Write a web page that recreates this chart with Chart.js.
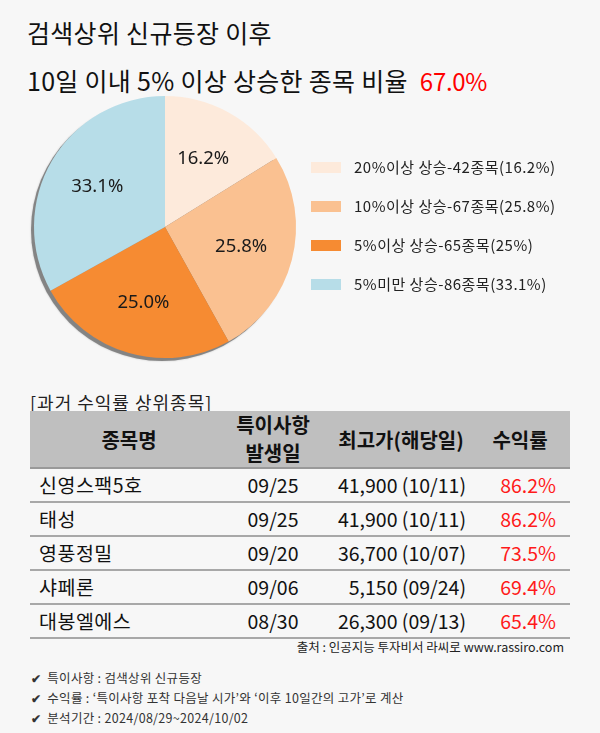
<!DOCTYPE html>
<html>
<head>
<meta charset="utf-8">
<script src="https://cdn.jsdelivr.net/npm/chart.js@4/dist/chart.umd.min.js"></script>
<style>
  html, body { margin:0; padding:0; }
  body { width:600px; height:733px; background:#f7f7f7; position:relative; overflow:hidden;
         font-family:"Noto Sans CJK KR","Noto Sans",sans-serif; color:#111; }
  .abs { position:absolute; white-space:nowrap; }
  #t1 { left:27px; top:20px; font-size:25px; line-height:25px; letter-spacing:0.3px; }
  #t2 { left:27px; top:68px; font-size:25px; line-height:25px; letter-spacing:0.3px; }
  #t2 .red { color:#ff0000; margin-left:12px; font-size:24px; letter-spacing:-0.3px; }
  #chartBox { position:absolute; left:0; top:77px; width:330px; height:300px; }
  .leg { position:absolute; left:311px; height:16px; font-size:15px; line-height:16px; color:#222; letter-spacing:0.5px; }
  .leg i { position:absolute; left:0; top:2px; width:30px; height:11px; }
  .leg span { position:absolute; left:43px; top:-1px; white-space:nowrap; }
  #tcap { left:30px; top:393px; font-size:18px; line-height:18px; color:#222; letter-spacing:1px; }
  #thead { position:absolute; left:30px; top:411px; width:540px; height:56px; background:#bfbfbf;
           border-bottom:2px solid #999; font-weight:bold; font-size:20px; color:#111; }
  #thead div { position:absolute; text-align:center; white-space:nowrap; }
  .row { position:absolute; left:30px; width:540px; height:32px; border-bottom:2px solid #a8a8a8; font-size:19.5px; color:#111; }
  .row div { position:absolute; top:5px; line-height:22px; white-space:nowrap; }
  .row .nm { letter-spacing:0.5px; }
  .row .ret { color:#ff1a1a; }
  #src { right:36px; top:640px; font-size:12.5px; line-height:14px; color:#222; }
  .note { left:31px; font-size:12.5px; line-height:14px; color:#333; letter-spacing:0.3px; }
  .note b { font-size:12px; margin-right:6px; }
</style>
</head>
<body>
<div id="t1" class="abs">검색상위 신규등장 이후</div>
<div id="t2" class="abs">10일 이내 5% 이상 상승한 종목 비율<span class="red" id="ratio"></span></div>
<div id="chartBox"><canvas id="c" width="330" height="300"></canvas></div>
<div id="legend"></div>
<div id="tcap" class="abs">[과거 수익률 상위종목]</div>
<div id="thead">
  <div style="left:0;width:198px;top:14px;">종목명</div>
  <div style="left:193px;width:100px;top:0px;line-height:28px;">특이사항<br>발생일</div>
  <div style="left:296px;width:150px;top:14px;">최고가(해당일)</div>
  <div style="left:446px;width:88px;top:14px;">수익률</div>
</div>
<div id="rows"></div>
<div id="src" class="abs">출처 : 인공지능 투자비서 라씨로 www.rassiro.com</div>
<div id="notes"></div>

<script>
// ---- data ----
const categories = ['20%이상 상승', '10%이상 상승', '5%이상 상승', '5%미만 상승'];
const counts = [42, 67, 65, 86];
const shares = [16.2, 25.8, 25.0, 33.1];
const legendShares = ['16.2%', '25.8%', '25%', '33.1%'];
const colors = ['#fdeadb', '#fac191', '#f68b32', '#b7dde8'];
const totalRatio = '67.0%';

const stockNames = ['신영스팩5호', '태성', '영풍정밀', '샤페론', '대봉엘에스'];
const eventDates = ['09/25', '09/25', '09/20', '09/06', '08/30'];
const highPrices = ['41,900', '41,900', '36,700', '5,150', '26,300'];
const highDates = ['10/11', '10/11', '10/07', '09/24', '09/13'];
const returnRates = ['86.2%', '86.2%', '73.5%', '69.4%', '65.4%'];

const notes = ['특이사항 : 검색상위 신규등장',
  '수익률 : ‘특이사항 포착 다음날 시가’와 ‘이후 10일간의 고가’로 계산',
  '분석기간 : 2024/08/29~2024/10/02'];

// ---- text parts ----
document.getElementById('ratio').textContent = totalRatio;
const legTops = [160, 199, 238, 277];
document.getElementById('legend').innerHTML = categories.map((c, i) =>
  `<div class="leg" style="top:${legTops[i]}px"><i style="background:${colors[i]}"></i><span>${c}-${counts[i]}종목(${legendShares[i]})</span></div>`).join('');
document.getElementById('rows').innerHTML = stockNames.map((n, i) =>
  `<div class="row" style="top:${469 + i * 34}px">
     <div class="nm" style="left:9px">${n}</div>
     <div style="left:193px;width:100px;text-align:center">${eventDates[i]}</div>
     <div style="right:104px;text-align:right">${highPrices[i]} (${highDates[i]})</div>
     <div class="ret" style="right:14px;text-align:right">${returnRates[i]}</div>
   </div>`).join('');
document.getElementById('notes').innerHTML = notes.map((t, i) =>
  `<div class="abs note" style="top:${671 + i * 20}px"><b>✔</b>${t}</div>`).join('');

// ---- chart ----
const shadowPlugin = {
  id: 'pieShadow',
  beforeDatasetsDraw(chart) {
    const arc = chart.getDatasetMeta(0).data[0];
    if (!arc) return;
    const ctx = chart.ctx;
    ctx.save();
    ctx.beginPath();
    ctx.arc(arc.x - 3, arc.y + 3, arc.outerRadius, 0, Math.PI * 2);
    ctx.fillStyle = 'rgba(120,120,120,0.85)';
    ctx.shadowColor = 'rgba(0,0,0,0.25)';
    ctx.shadowBlur = 2;
    ctx.fill();
    ctx.restore();
  }
};
const labelPlugin = {
  id: 'sliceLabels',
  afterDatasetsDraw(chart) {
    const ctx = chart.ctx;
    ctx.save();
    ctx.font = '18.5px "Noto Sans", "Noto Sans CJK KR", sans-serif';
    ctx.fillStyle = '#1a1a1a';
    ctx.textAlign = 'center';
    ctx.textBaseline = 'middle';
    chart.getDatasetMeta(0).data.forEach((a, i) => {
      const mid = (a.startAngle + a.endAngle) / 2;
      const r = a.outerRadius * 0.6;
      ctx.fillText(shares[i].toFixed(1) + '%', a.x + Math.cos(mid) * r, a.y + Math.sin(mid) * r);
    });
    ctx.restore();
  }
};

new Chart(document.getElementById('c'), {
  type: 'pie',
  data: { labels: categories, datasets: [{ data: counts, backgroundColor: colors, borderWidth: 0 }] },
  options: {
    responsive: false, animation: false,
    layout: { padding: 19 },
    plugins: { legend: { display: false }, tooltip: { enabled: false } }
  },
  plugins: [shadowPlugin, labelPlugin]
});
</script>
</body>
</html>
